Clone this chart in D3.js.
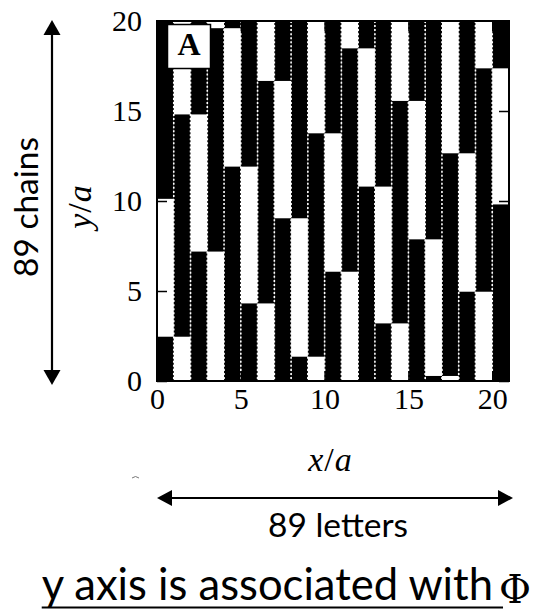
<!DOCTYPE html>
<html>
<head>
<meta charset="utf-8">
<script src="https://cdn.jsdelivr.net/npm/d3@7"></script>
<style>
  body { margin: 0; background: #fff; }
  svg { display: block; }
</style>
</head>
<body>
<svg id="chart" width="539" height="611"></svg>
<script>
// Left edge (x/a) of each of the 21 strips
const columnX = [0, 1, 2, 3, 4, 5, 6, 7, 8, 9, 10, 11, 12, 13, 14, 15, 16, 17, 18, 19, 20];
// Height (y/a) where each strip turns black, and where it turns white again (wrapping at the top)
const blackFrom = [10.12, 2.46, 14.81, 7.19, 19.6, 11.91, 4.31, 16.67, 9.04, 1.35, 13.76,
                   6.07, 18.48, 10.8, 3.2, 15.56, 7.87, 0.28, 12.65, 4.96, 17.37];
const blackTo   = [2.46, 14.81, 7.19, 19.6, 11.91, 4.31, 16.67, 9.04, 1.35, 13.76, 6.07,
                   18.48, 10.8, 3.2, 15.56, 7.87, 0.28, 12.65, 4.96, 17.37, 9.81];
const xTicks = [0, 5, 10, 15, 20];
const yTicks = [0, 5, 10, 15, 20];
const xDomain = [0, 21];
const yDomain = [0, 20];
const chainCount = 89;

const svg = d3.select("#chart");
const plot = { left: 157, right: 509, top: 21, bottom: 381 };

const x = d3.scaleLinear().domain(xDomain).range([plot.left, plot.right]);
const y = d3.scaleLinear().domain(yDomain).range([plot.bottom, plot.top]);

// black runs of every strip, split where a run wraps past the top
const segments = [];
columnX.forEach((c, i) => {
  const a = blackFrom[i], b = blackTo[i];
  if (a < b) segments.push({ c, y0: a, y1: b });
  else {
    segments.push({ c, y0: yDomain[0], y1: b });
    segments.push({ c, y0: a, y1: yDomain[1] });
  }
});

svg.append("rect")
  .attr("x", x(xDomain[0])).attr("y", y(yDomain[1]))
  .attr("width", x(xDomain[1]) - x(xDomain[0]))
  .attr("height", y(yDomain[0]) - y(yDomain[1]))
  .attr("fill", "#fff");

svg.append("g").selectAll("rect")
  .data(segments)
  .join("rect")
  .attr("x", d => x(d.c))
  .attr("width", d => x(d.c + 1) - x(d.c))
  .attr("y", d => y(d.y1))
  .attr("height", d => y(d.y0) - y(d.y1))
  .attr("fill", "#000");

// dotted seams between neighbouring strips, one dot per chain
const chainStep = (y(yDomain[0]) - y(yDomain[1])) / chainCount;
svg.append("g").selectAll("line")
  .data(columnX.slice(1))
  .join("line")
  .attr("x1", d => x(d)).attr("x2", d => x(d))
  .attr("y1", y(yDomain[1])).attr("y2", y(yDomain[0]))
  .attr("stroke", "#fff")
  .attr("stroke-width", 1.6)
  .attr("stroke-dasharray", `${chainStep / 2} ${chainStep / 2}`);

// axes with inward ticks on all four sides
const tickFont = "Liberation Serif, Times New Roman, serif";
function styleAxis(g) {
  g.select(".domain").remove();
  g.selectAll(".tick line").attr("stroke", "#000").attr("stroke-width", 1.5);
  g.selectAll(".tick text").attr("fill", "#000")
    .attr("font-family", tickFont).attr("font-size", 30);
}
svg.append("g").attr("transform", `translate(${plot.left},0)`)
  .call(d3.axisLeft(y).tickValues(yTicks).tickSize(-10).tickPadding(15).tickFormat(d3.format("d")))
  .call(styleAxis);
svg.append("g").attr("transform", `translate(0,${plot.bottom})`)
  .call(d3.axisBottom(x).tickValues(xTicks).tickSize(-10).tickPadding(7).tickFormat(d3.format("d")))
  .call(styleAxis);
svg.append("g").attr("transform", `translate(0,${plot.top})`)
  .call(d3.axisTop(x).tickValues(xTicks).tickSize(-10).tickFormat(""))
  .call(styleAxis);
svg.append("g").attr("transform", `translate(${plot.right},0)`)
  .call(d3.axisRight(y).tickValues(yTicks).tickSize(-10).tickFormat(""))
  .call(styleAxis);

// frame
svg.append("rect")
  .attr("x", plot.left).attr("y", plot.top)
  .attr("width", plot.right - plot.left).attr("height", plot.bottom - plot.top)
  .attr("fill", "none").attr("stroke", "#000").attr("stroke-width", 2);

// panel letter
svg.append("rect")
  .attr("x", plot.left + 10.5).attr("y", plot.top + 3.5)
  .attr("width", 43).attr("height", 44)
  .attr("fill", "#fff").attr("stroke", "#000").attr("stroke-width", 1.5);
svg.append("text")
  .attr("x", plot.left + 32).attr("y", plot.top + 34)
  .attr("text-anchor", "middle")
  .attr("font-family", tickFont).attr("font-weight", "bold").attr("font-size", 32)
  .text("A");

// axis titles
const xt = svg.append("text")
  .attr("x", (plot.left + plot.right) / 2 - 3).attr("y", 471)
  .attr("text-anchor", "middle")
  .attr("font-family", tickFont).attr("font-size", 34);
xt.append("tspan").attr("font-style", "italic").text("x");
xt.append("tspan").attr("dx", 1).text("/");
xt.append("tspan").attr("dx", 1).attr("font-style", "italic").text("a");

const yt = svg.append("text")
  .attr("transform", `translate(91,${(plot.top + plot.bottom) / 2 + 6}) rotate(-90)`)
  .attr("text-anchor", "middle")
  .attr("font-family", tickFont).attr("font-size", 34);
yt.append("tspan").attr("font-style", "italic").text("y");
yt.append("tspan").attr("dx", 1).text("/");
yt.append("tspan").attr("dx", 1).attr("font-style", "italic").text("a");

// annotations
const sans = "Lato, Open Sans, sans-serif";
function fitWidth(sel, target) {
  const w = sel.node().getComputedTextLength();
  const fs = parseFloat(sel.attr("font-size"));
  sel.attr("font-size", fs * target / w);
  return sel;
}

function arrowHead(tipX, tipY, dirX, dirY, len, half) {
  const bx = tipX - dirX * len, by = tipY - dirY * len;
  const px = -dirY * half, py = dirX * half;
  return `M${tipX},${tipY}L${bx + px},${by + py}L${bx - px},${by - py}Z`;
}

// vertical double arrow
const vx = 52;
svg.append("line").attr("x1", vx).attr("x2", vx).attr("y1", 30).attr("y2", 375)
  .attr("stroke", "#000").attr("stroke-width", 2.2);
svg.append("path").attr("d", arrowHead(vx, 20, 0, -1, 15, 8.5)).attr("fill", "#000");
svg.append("path").attr("d", arrowHead(vx, 385, 0, 1, 15, 8.5)).attr("fill", "#000");

const chainsLabel = svg.append("text")
  .attr("transform", "translate(38,207) rotate(-90)")
  .attr("text-anchor", "middle")
  .attr("font-family", sans).attr("font-size", 30).attr("fill", "#000")
  .text("89 chains");
fitWidth(chainsLabel, 140);

// horizontal double arrow
const hy = 498;
svg.append("line").attr("x1", 165).attr("x2", 505).attr("y1", hy).attr("y2", hy)
  .attr("stroke", "#000").attr("stroke-width", 2.2);
svg.append("path").attr("d", arrowHead(157, hy, -1, 0, 15, 8)).attr("fill", "#000");
svg.append("path").attr("d", arrowHead(513, hy, 1, 0, 15, 8)).attr("fill", "#000");

const lettersLabel = svg.append("text")
  .attr("x", 338).attr("y", 537)
  .attr("text-anchor", "middle")
  .attr("font-family", sans).attr("font-size", 30).attr("fill", "#000")
  .text("89 letters");
fitWidth(lettersLabel, 140);

// caption with underline, the symbol kept clear of the right edge
const probe = svg.append("text")
  .attr("font-family", sans).attr("font-size", 40)
  .text("is associated with");
fitWidth(probe, 335);
const capSize = parseFloat(probe.attr("font-size"));
probe.remove();

const phi = svg.append("text")
  .attr("y", 603)
  .attr("font-family", "DejaVu Serif, serif").attr("font-size", 39).attr("fill", "#000")
  .text("Φ");
const phiX = 531 - phi.node().getComputedTextLength();
phi.attr("x", phiX);

const capEnd = phiX - 6;
const caption = svg.append("text")
  .attr("x", capEnd).attr("y", 600)
  .attr("text-anchor", "end")
  .attr("font-family", sans).attr("font-size", capSize).attr("fill", "#000")
  .text("y axis is associated with");
const capStart = capEnd - caption.node().getComputedTextLength();
svg.append("line")
  .attr("x1", capStart).attr("x2", phiX + 4).attr("y1", 607.5).attr("y2", 607.5)
  .attr("stroke", "#000").attr("stroke-width", 2.2);

// small stray mark under the axis title
svg.append("path").attr("d", "M132,478 Q135.5,475 139,478")
  .attr("fill", "none").attr("stroke", "#777").attr("stroke-width", 1);
</script>
</body>
</html>
